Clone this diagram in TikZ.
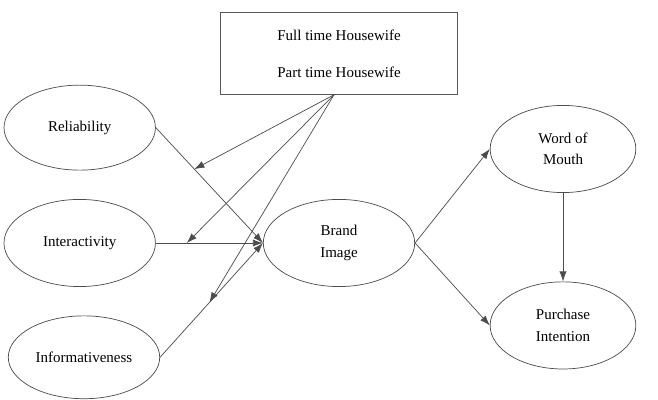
\documentclass[tikz,border=0pt]{standalone}
\usepackage{fontspec}
\setmainfont{Liberation Serif}
\usetikzlibrary{positioning,shapes.geometric,arrows.meta}

\begin{document}
\begin{tikzpicture}[x=0.7pt,y=-0.7pt,
  latent/.style={ellipse, draw=black!70, line width=0.5pt, minimum width=106pt, minimum height=61pt, inner sep=0pt, align=center, font=\fontsize{10.5}{15}\selectfont},
  groupbox/.style={rectangle, draw=black!65, line width=0.6pt, minimum width=166pt, minimum height=57pt, align=center, font=\fontsize{10.5}{15}\selectfont},
  link/.style={draw=black!70, line width=0.5pt, -{Latex[length=7pt,width=5pt]}}]
  \useasboundingbox (0,0) rectangle (658,400);
  % central construct and its antecedents
  \node [latent] (brand) at (339,243) {Brand\\Image};
  \node [latent, left=75pt of brand] (inter) {Interactivity};
  \node [latent, minimum height=59.5pt, above=20pt of inter] (rel) {Reliability};
  \node [latent, minimum height=58pt, below=20pt of inter, xshift=3pt] (info) {Informativeness};
  % moderator
  \node [groupbox, above=73pt of brand] (grp) {Full time Housewife\\[11pt]Part time Housewife};
  \coordinate (apex) at ([xshift=-3.5pt]grp.south);
  % outcomes
  \node [latent, minimum width=102pt] (wom) at (563,149) {Word of\\Mouth};
  \node [latent, minimum width=102pt, below=62pt of wom] (pi) {Purchase\\Intention};
  \draw [link] (rel.east) -- (brand.west) coordinate [pos=0.36] (relmid);
  \draw [link] (inter.east) -- (brand.west) coordinate [pos=0.29] (intermid);
  \draw [link] (info.east) -- (brand.west) coordinate [pos=0.48] (infomid);
  \draw [link] (apex) -- (relmid);
  \draw [link] (apex) -- (intermid);
  \draw [link] (apex) -- (infomid);
  \draw [link] (brand.east) -- (wom.west);
  \draw [link] (brand.east) -- (pi.west);
  \draw [link] (wom.south) -- (pi.north);
\end{tikzpicture}
\end{document}
